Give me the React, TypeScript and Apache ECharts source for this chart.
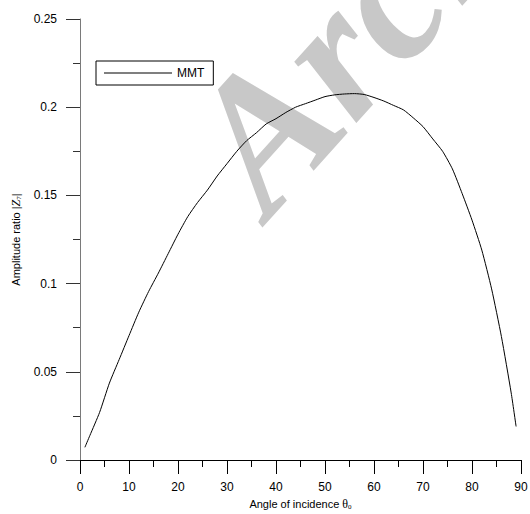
import { useEffect, useRef } from "react";
import * as echarts from "echarts";

const angles = [1, 2, 4, 6, 8, 10, 12, 14, 16, 18, 20, 22, 24, 26, 28, 30, 32, 34, 36, 38, 40, 42, 44, 46, 48, 50, 52, 54, 56, 58, 60, 62, 64, 66, 68, 70, 72, 74, 76, 78, 80, 82, 84, 86, 88, 89];
const amplitude = [0.0072, 0.0138, 0.027, 0.0436, 0.057, 0.0705, 0.0838, 0.0955, 0.106, 0.117, 0.128, 0.138, 0.146, 0.153, 0.161, 0.168, 0.175, 0.181, 0.1855, 0.1905, 0.1935, 0.197, 0.2, 0.202, 0.204, 0.206, 0.207, 0.2075, 0.2077, 0.2072, 0.2055, 0.2035, 0.201, 0.1985, 0.194, 0.189, 0.182, 0.175, 0.165, 0.151, 0.136, 0.119, 0.097, 0.07, 0.038, 0.019];
const seriesName = "MMT";
const watermarkText = "Archive";

export default function App() {
  const ref = useRef<HTMLDivElement>(null);
  useEffect(() => {
    if (!ref.current) return;
    const chart = echarts.init(ref.current, undefined, { renderer: "svg" });
    const font = "'Liberation Sans', Arial, sans-serif";
    chart.setOption({
      animation: false,
      backgroundColor: "#ffffff",
      textStyle: { fontFamily: font },
      grid: { left: 80, right: 9, top: 19, bottom: 54, containLabel: false, outerBoundsMode: "none" },
      graphic: [
        {
          type: "text",
          z: -10,
          x: 292,
          y: 241,
          rotation: 0.838,
          silent: true,
          style: {
            text: watermarkText,
            fill: "#c8c8c8",
            font: "italic bold 190px 'Liberation Serif', 'Times New Roman', serif",
            textAlign: "left",
            textVerticalAlign: "bottom",
          },
        },
      ],
      legend: {
        show: true,
        left: 96,
        top: 61,
        padding: [6, 9, 6, 8],
        itemWidth: 68,
        itemHeight: 14,
        borderColor: "#000",
        borderWidth: 1,
        borderRadius: 0,
        backgroundColor: "#fff",
        textStyle: { fontFamily: font, fontSize: 12, color: "#000" },
        data: [{ name: seriesName, icon: "path://M0,0H68V1H0Z", itemStyle: { color: "#000" } }],
      },
      xAxis: {
        type: "value",
        min: 0,
        max: 90,
        interval: 10,
        name: "Angle of incidence {t|θ}{s|0}",
        nameLocation: "middle",
        nameGap: 37,
        nameTextStyle: {
          fontFamily: font,
          fontSize: 11,
          color: "#000",
          rich: {
            t: { fontFamily: "'Liberation Serif', serif", fontSize: 12, color: "#000" },
            s: { fontFamily: "'Liberation Serif', serif", fontSize: 7, color: "#000", padding: [6, 0, 0, 0] },
          },
        },
        axisLine: { show: true, onZero: false, lineStyle: { color: "#000", width: 1 } },
        axisTick: { show: true, inside: false, length: 14, lineStyle: { color: "#000", width: 1 } },
        minorTick: { show: true, splitNumber: 2, length: 7, lineStyle: { color: "#000", width: 1 } },
        axisLabel: { color: "#000", fontSize: 12, margin: 21, fontFamily: font },
        splitLine: { show: false },
        minorSplitLine: { show: false },
      },
      yAxis: {
        type: "value",
        min: 0,
        max: 0.25,
        interval: 0.05,
        name: "Amplitude ratio |{z|Z}{s|7}|",
        nameLocation: "middle",
        nameGap: 58,
        nameTextStyle: {
          fontFamily: font,
          fontSize: 11,
          color: "#000",
          rich: {
            z: { fontFamily: "'Liberation Serif', serif", fontStyle: "italic", fontSize: 12, color: "#000" },
            s: { fontFamily: "'Liberation Serif', serif", fontSize: 7, color: "#000", padding: [6, 0, 0, 0] },
          },
        },
        axisLine: { show: true, onZero: false, lineStyle: { color: "#7a7a7a", width: 1 } },
        axisTick: { show: true, inside: false, length: 14, lineStyle: { color: "#333", width: 1 } },
        minorTick: { show: true, splitNumber: 2, length: 7, lineStyle: { color: "#333", width: 1 } },
        axisLabel: { color: "#000", fontSize: 12, margin: 23, fontFamily: font },
        splitLine: { show: false },
        minorSplitLine: { show: false },
      },
      series: [
        {
          name: seriesName,
          type: "line",
          symbol: "none",
          smooth: 0.2,
          lineStyle: { color: "#000", width: 1 },
          itemStyle: { color: "#000" },
          data: angles.map((a, i) => [a, amplitude[i]]),
          z: 5,
        },
      ],
    });
    return () => chart.dispose();
  }, []);
  return <div ref={ref} style={{ position: "fixed", left: 0, top: 0, width: 530, height: 514 }} />;
}
